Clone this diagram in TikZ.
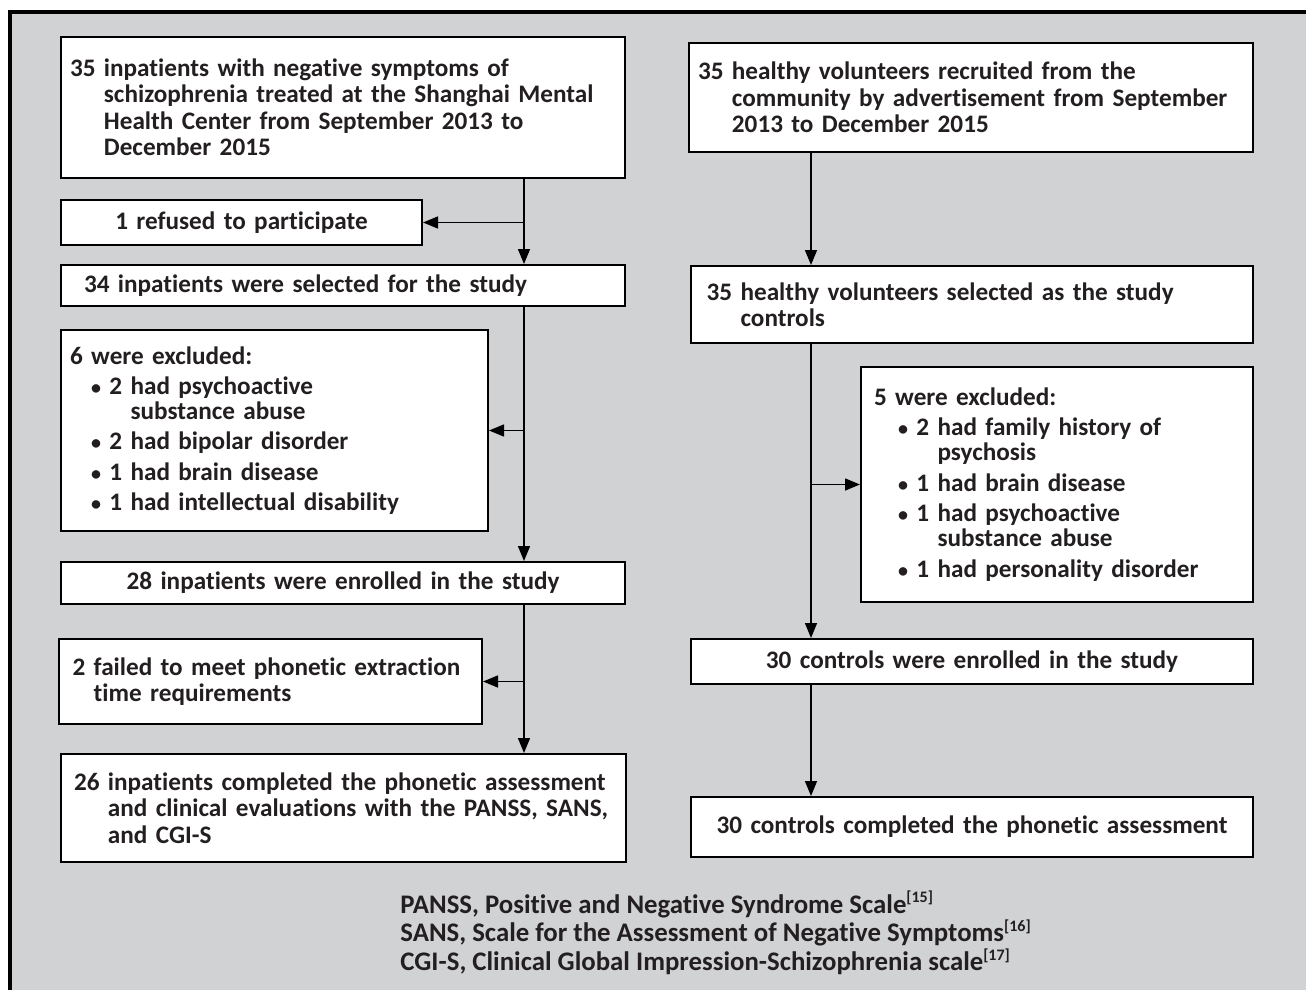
\documentclass[tikz,border=0pt]{standalone}
\usepackage{fontspec}
\setmainfont{Carlito}[Ligatures=NoCommon]
\usetikzlibrary{arrows.meta}
\setlength{\parindent}{0pt}
\hyphenpenalty=10000
\exhyphenpenalty=10000
\definecolor{panel}{RGB}{209,210,212}
\definecolor{ink}{RGB}{35,31,32}
\newcommand{\boxfont}{\fontsize{12.6}{13.25}\selectfont\bfseries}
\newcommand{\listfont}{\fontsize{12.6}{12.5}\selectfont\bfseries}
\newcommand{\notefont}{\fontsize{13.4}{12.25}\selectfont\bfseries}
\newcommand{\pad}[1]{\phantom{#1}}
\newcommand{\bul}{{\fontsize{10}{10}\selectfont•}}
\newcommand{\refno}[1]{\textsuperscript{\fontsize{8}{8}\selectfont[#1]}}

\begin{document}
\begin{tikzpicture}[x=0.5pt, y=-0.5pt,
        box/.style={draw=black, line width=1pt, fill=white, text=ink, anchor=north west,
            inner xsep=4.5pt, inner ysep=0pt, align=left, font=\boxfont},
        mid/.style={box, align=center},
        flow/.style={draw=black, line width=0.75pt, -{Triangle[length=7.5pt, width=6pt]}}]
            \useasboundingbox (0,0) rectangle (1306,990);
            \clip (0,0) rectangle (1306,990);
            \draw[line width=2pt, fill=panel] (10,12) rectangle (1340,1020);

            % Trunk lines of the two columns
            \coordinate (lx) at (524,0);
            \coordinate (rx) at (811,0);

            % Inpatients
            \node[box, text width=273pt, minimum height=70.5pt] (pin) at (60,36) {35 inpatients with negative symptoms of\\\pad{35 }schizophrenia treated at the Shanghai Mental\\\pad{35 }Health Center from September 2013 to\\\pad{35 }December 2015};
            \node[mid, text width=171.5pt, minimum height=22.5pt] (pref) at (60,199) {1 refused to participate};
            \node[box, text width=259pt, inner xsep=11.5pt, minimum height=20.5pt] (psel) at (60,264) {34 inpatients were selected for the study};
            \node[box, font=\listfont, text width=204.5pt, minimum height=100.5pt] (pexc) at (60,329) {6 were excluded:\\[2.7pt]
                \hspace*{10.5pt}\bul{} 2 had psychoactive\\
                \hspace*{10.5pt}\pad{\bul{} 2 }substance abuse\\[2.7pt]
                \hspace*{10.5pt}\bul{} 2 had bipolar disorder\\[2.7pt]
                \hspace*{10.5pt}\bul{} 1 had brain disease\\[2.7pt]
                \hspace*{10.5pt}\bul{} 1 had intellectual disability};
            \node[mid, text width=273pt, minimum height=21pt] (penr) at (60,561) {28 inpatients were enrolled in the study};
            \node[box, text width=198pt, inner xsep=6.75pt, minimum height=42.5pt] (pfail) at (58,638) {2 failed to meet phonetic extraction\\\pad{2 }time requirements};
            \node[box, text width=269.5pt, inner xsep=6.5pt, minimum height=54pt] (pdone) at (60,753) {26 inpatients completed the phonetic assessment\\\pad{26 }and clinical evaluations with the PANSS, SANS,\\\pad{26 }and CGI-S};

            % Healthy volunteers
            \node[box, text width=273pt, minimum height=54.5pt] (hvol) at (688,42) {35 healthy volunteers recruited from the\\\pad{35 }community by advertisement from September\\\pad{35 }2013 to December 2015};
            \node[box, text width=265.4pt, inner xsep=7.8pt, minimum height=38.5pt] (hsel) at (690,265) {35 healthy volunteers selected as the study\\\pad{35 }controls};
            \node[box, font=\listfont, text width=183pt, inner xsep=6.5pt, minimum height=117.5pt] (hexc) at (860,366) {5 were excluded:\\[2.7pt]
                \hspace*{12pt}\bul{} 2 had family history of\\
                \hspace*{12pt}\pad{\bul{} 2 }psychosis\\[2.7pt]
                \hspace*{12pt}\bul{} 1 had brain disease\\[2.7pt]
                \hspace*{12pt}\bul{} 1 had psychoactive\\
                \hspace*{12pt}\pad{\bul{} 1 }substance abuse\\[2.7pt]
                \hspace*{12pt}\bul{} 1 had personality disorder};
            \node[mid, text width=272pt, minimum height=22.5pt] (henr) at (690,638) {30 controls were enrolled in the study};
            \node[mid, text width=272pt, minimum height=30pt] (hdone) at (690,796) {30 controls completed the phonetic assessment};

            % Abbreviations
            \node[anchor=west, align=left, inner sep=0pt, text=ink, font=\notefont] (note) at (400,933) {PANSS, Positive and Negative Syndrome Scale\refno{15}\\SANS, Scale for the Assessment of Negative Symptoms\refno{16}\\CGI-S, Clinical Global Impression-Schizophrenia scale\refno{17}};

            % Wiring
            \draw[flow] (pin.south -| lx) -- (psel.north -| lx);
            \draw[flow] (pref.east -| lx) -- (pref.east);
            \draw[flow] (psel.south -| lx) -- (penr.north -| lx);
            \draw[flow] (pexc.east -| lx) -- (pexc.east);
            \draw[flow] (penr.south -| lx) -- (pdone.north -| lx);
            \draw[flow] (pfail.east -| lx) -- (pfail.east);
            \draw[flow] (hvol.south -| rx) -- (hsel.north -| rx);
            \draw[flow] (hsel.south -| rx) -- (henr.north -| rx);
            \draw[flow] (hexc.west -| rx) -- (hexc.west);
            \draw[flow] (henr.south -| rx) -- (hdone.north -| rx);
        \end{tikzpicture}
\end{document}
